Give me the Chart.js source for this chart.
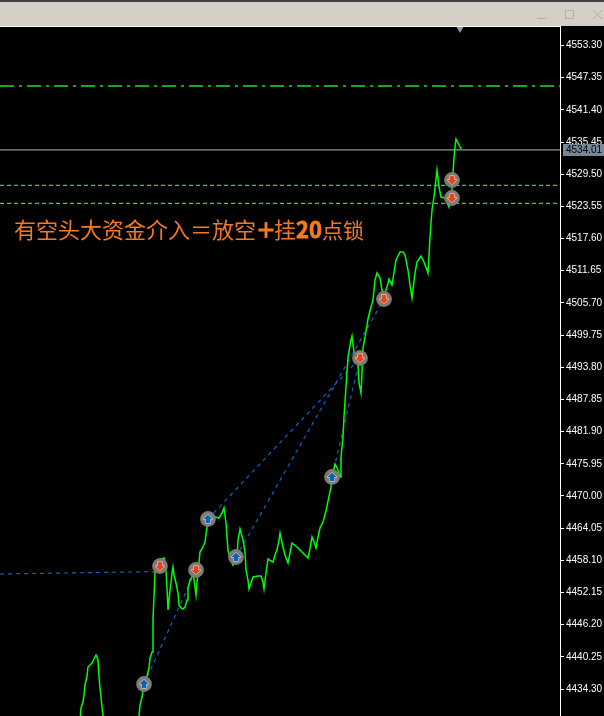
<!DOCTYPE html>
<html lang="zh">

<head>
    <meta charset="UTF-8">
    <title>4534.01</title>
    <script src="https://cdn.jsdelivr.net/npm/chart.js"></script>
    <style>
        html, body { margin: 0; padding: 0; background: #000; overflow: hidden; }
        canvas { display: block; }
    </style>
</head>

<body>
    <canvas id="priceChart" width="604" height="716"></canvas>

    <script>
        const bars = [80, 81, 83, 84, 85, 87, 88, 90, 92, 94, 96, 98, 99, 100, 101, 102, 103, 105, 137, 139, 140, 142, 143, 144, 147, 149, 150, 152, 153, 154, 155, 156, 164, 166, 167, 168, 170, 171, 172, 173, 174, 176, 178, 179, 181, 183, 185, 187, 188, 190, 192, 193, 195, 196, 197, 198, 200, 203, 205, 207, 208, 210, 215, 219, 222, 224, 226, 227, 228, 230, 233, 237, 238, 240, 243, 245, 246, 248, 249, 251, 253, 258, 261, 263, 264, 266, 268, 273, 275, 277, 279, 280, 283, 285, 288, 290, 292, 297, 302, 308, 310, 312, 314, 316, 318, 320, 323, 326, 328, 331, 332, 335, 338, 340, 341, 343, 344, 346, 348, 351, 352, 354, 358, 359, 361, 362, 363, 365, 367, 368, 371, 373, 375, 377, 380, 382, 384, 387, 389, 392, 396, 400, 403, 405, 408, 410, 412, 415, 417, 421, 424, 428, 430, 432, 434, 437, 439, 441, 445, 449, 452, 454, 455, 456, 459, 461];
        const closes = [4428.20, 4430.79, 4431.90, 4433.19, 4435.04, 4436.70, 4438.37, 4438.74, 4439.11, 4439.85, 4440.59, 4439.66, 4436.52, 4434.49, 4432.82, 4430.97, 4429.49, 4427.65, 4427.65, 4429.31, 4431.34, 4432.82, 4434.12, 4435.22, 4436.70, 4438.18, 4440.03, 4441.14, 4447.43, 4451.31, 4455.75, 4457.79, 4458.53, 4456.31, 4452.98, 4448.91, 4452.61, 4453.90, 4455.75, 4456.86, 4455.38, 4453.90, 4452.05, 4449.83, 4449.28, 4449.09, 4449.46, 4450.76, 4452.98, 4454.46, 4455.01, 4455.94, 4453.16, 4451.68, 4453.90, 4455.75, 4459.63, 4460.56, 4461.48, 4464.26, 4465.74, 4466.85, 4466.11, 4465.92, 4466.85, 4467.77, 4465.00, 4462.41, 4460.00, 4458.53, 4457.23, 4458.53, 4461.85, 4463.89, 4461.85, 4459.63, 4456.31, 4454.46, 4452.79, 4453.90, 4455.01, 4455.20, 4455.20, 4454.09, 4452.79, 4455.75, 4458.34, 4457.78, 4459.08, 4460.00, 4461.85, 4463.15, 4460.56, 4459.08, 4457.60, 4459.45, 4461.30, 4460.56, 4459.63, 4458.53, 4460.37, 4462.41, 4461.48, 4460.37, 4462.41, 4464.07, 4465.18, 4467.22, 4469.06, 4471.65, 4473.32, 4475.91, 4474.80, 4473.50, 4477.20, 4480.90, 4484.60, 4490.15, 4495.69, 4498.84, 4499.58, 4496.62, 4494.58, 4490.89, 4489.04, 4492.73, 4497.36, 4499.39, 4501.61, 4502.72, 4504.94, 4506.23, 4509.93, 4511.23, 4510.30, 4508.08, 4506.97, 4508.64, 4510.12, 4509.01, 4513.63, 4515.11, 4515.11, 4514.56, 4511.78, 4509.01, 4506.60, 4511.23, 4513.26, 4514.37, 4513.26, 4511.23, 4517.88, 4522.88, 4525.28, 4530.27, 4527.13, 4525.28, 4525.10, 4523.43, 4526.95, 4532.49, 4534.53, 4536.01, 4534.90, 4534.16];

        const tickValues = [4553.30, 4547.35, 4541.40, 4535.45, 4529.50, 4523.55, 4517.60, 4511.65, 4505.70, 4499.75, 4493.80, 4487.85, 4481.90, 4475.95, 4470.00, 4464.05, 4458.10, 4452.15, 4446.20, 4440.25, 4434.30];

        const buyBars = [144, 208, 236, 332];
        const buyPrices = [4435.22, 4465.74, 4458.71, 4473.50];
        const sellBars = [160, 196, 360, 384, 452, 452];
        const sellPrices = [4457.04, 4456.31, 4495.51, 4506.42, 4528.42, 4525.10];

        // dashed trade links: [bar, price, bar, price]
        const tradeLinks = [
            [0, 4455.57, 160, 4456.03],
            [144, 4435.22, 196, 4456.31],
            [208, 4465.74, 360, 4495.51],
            [236, 4458.71, 384, 4506.42],
            [332, 4473.50, 360, 4495.51]
        ];

        const currentPrice = 4534.01;
        const resistancePrice = 4545.81;
        const stopLevels = [4527.44, 4524.12];
        const markerBar = 460;
        const markerPrice = 4556.35;

        const green = '#00ff00';
        const levelGreen = '#22e022';

        function makeArrow(isUp) {
            const c = document.createElement('canvas');
            c.width = 16;
            c.height = 16;
            const g = c.getContext('2d');
            g.fillStyle = '#7f7a72';
            g.beginPath();
            g.arc(8, 8, 7.9, 0, Math.PI * 2);
            g.fill();
            g.beginPath();
            if (isUp) {
                g.moveTo(8, 3.5); g.lineTo(12.5, 8); g.lineTo(10.5, 8); g.lineTo(10.5, 12);
                g.lineTo(5.5, 12); g.lineTo(5.5, 8); g.lineTo(3.5, 8);
            } else {
                g.moveTo(8, 12.5); g.lineTo(12.5, 8); g.lineTo(10.5, 8); g.lineTo(10.5, 4);
                g.lineTo(5.5, 4); g.lineTo(5.5, 8); g.lineTo(3.5, 8);
            }
            g.closePath();
            g.fillStyle = isUp ? '#0a64b4' : '#e8421c';
            g.strokeStyle = '#ffffff';
            g.lineWidth = 1;
            g.stroke();
            g.fill();
            return c;
        }

        function toPoints(xs, ys) {
            return xs.map((x, i) => ({ x: x, y: ys[i] }));
        }

        function levelLine(price, color, dash, width) {
            return {
                data: [{ x: 0, y: price }, { x: 560, y: price }],
                borderColor: color,
                borderWidth: width,
                borderDash: dash,
                pointRadius: 0,
                order: 5
            };
        }

        // window title bar, frame, headline and the price tag on the axis
        const chrome = {
            id: 'chrome',
            beforeDraw(chart) {
                const ctx = chart.ctx;
                ctx.save();
                ctx.fillStyle = '#000';
                ctx.fillRect(0, 0, 604, 716);
                ctx.fillStyle = '#d4d0c8';
                ctx.fillRect(0, 0, 604, 26);
                ctx.fillStyle = '#404040';
                ctx.fillRect(0, 0, 604, 2);
                ctx.fillStyle = '#ffffff';
                ctx.fillRect(0, 26, 561, 1);
                ctx.strokeStyle = '#b4b0a8';
                ctx.lineWidth = 1;
                ctx.beginPath();
                ctx.moveTo(537, 18.5); ctx.lineTo(546, 18.5);
                ctx.rect(565.5, 10.5, 8, 8);
                ctx.moveTo(593, 10); ctx.lineTo(602, 19);
                ctx.moveTo(602, 10); ctx.lineTo(593, 19);
                ctx.stroke();
                ctx.restore();
            },
            afterDraw(chart) {
                const ctx = chart.ctx;
                const y = chart.scales.y.getPixelForValue(currentPrice);
                ctx.save();
                ctx.fillStyle = '#778899';
                ctx.fillRect(563, Math.round(y) - 6, 41, 12);
                ctx.fillStyle = '#000';
                ctx.font = '10px "Liberation Sans"';
                ctx.textBaseline = 'middle';
                ctx.fillText(currentPrice.toFixed(2), 566, Math.round(y));

                const parts = [
                    ['有空头大资金介入＝放空', 22, false, 0],
                    ['＋', 20, true, 0],
                    ['挂', 22, false, -2],
                    ['20', 22, true, 0],
                    ['点锁', 21, false, 0]
                ];
                let x = 14;
                ctx.fillStyle = '#f47920';
                ctx.strokeStyle = '#f47920';
                ctx.lineWidth = 0.8;
                ctx.textBaseline = 'alphabetic';
                for (let part of parts) {
                    ctx.font = (part[2] ? 'bold ' : '') + part[1] + 'px "Noto Sans CJK SC"';
                    x += part[3];
                    ctx.fillText(part[0], x, 238);
                    // the bold runs are heavier in the screenshot than the font's bold
                    if (part[2]) ctx.strokeText(part[0], x, 238);
                    x += ctx.measureText(part[0]).width;
                }
                ctx.restore();
            }
        };

        const datasets = [
            {
                data: toPoints(bars, closes),
                borderColor: green,
                borderWidth: 1.5,
                pointRadius: 0,
                tension: 0,
                order: 3
            },
            levelLine(resistancePrice, levelGreen, [14, 5, 3, 5], 1.3),
            levelLine(stopLevels[0], levelGreen, [4, 3], 1.2),
            levelLine(stopLevels[1], levelGreen, [4, 3], 1.2),
            levelLine(currentPrice, '#8a96a0', [], 1.2),
            {
                data: toPoints(buyBars, buyPrices),
                showLine: false,
                pointStyle: makeArrow(true),
                order: 1
            },
            {
                data: toPoints(sellBars, sellPrices),
                showLine: false,
                pointStyle: makeArrow(false),
                order: 1
            },
            {
                data: [{ x: markerBar, y: markerPrice }],
                showLine: false,
                pointStyle: 'triangle',
                rotation: 180,
                pointRadius: 4,
                pointBackgroundColor: '#8a9ab0',
                pointBorderWidth: 0,
                clip: false,
                order: 1
            }
        ];

        for (let link of tradeLinks) {
            datasets.push({
                data: [{ x: link[0], y: link[1] }, { x: link[2], y: link[3] }],
                borderColor: '#0a64c4',
                borderWidth: 1.2,
                borderDash: [4, 4],
                pointRadius: 0,
                order: 4
            });
        }

        new Chart(document.getElementById('priceChart').getContext('2d'), {
            type: 'line',
            data: { datasets: datasets },
            plugins: [chrome],
            options: {
                responsive: false,
                animation: false,
                layout: { autoPadding: false, padding: { top: 27, left: 0, right: 0, bottom: 0 } },
                plugins: { legend: { display: false }, tooltip: { enabled: false } },
                scales: {
                    x: { type: 'linear', display: false, min: 0, max: 560 },
                    y: {
                        position: 'right',
                        min: 4429.31,
                        max: 4556.72,
                        afterFit(scale) {
                            scale.width = 44;
                            scale.paddingTop = 0;
                            scale.paddingBottom = 0;
                        },
                        afterBuildTicks(scale) { scale.ticks = tickValues.map(v => ({ value: v })); },
                        border: { color: '#ffffff', width: 1 },
                        grid: { drawOnChartArea: false, color: '#ffffff', tickLength: 4 },
                        ticks: {
                            color: '#ffffff',
                            padding: 2,
                            autoSkip: false,
                            maxRotation: 0,
                            font: { family: 'Liberation Sans', size: 10 },
                            callback: v => v.toFixed(2)
                        }
                    }
                }
            }
        });
    </script>
</body>

</html>
